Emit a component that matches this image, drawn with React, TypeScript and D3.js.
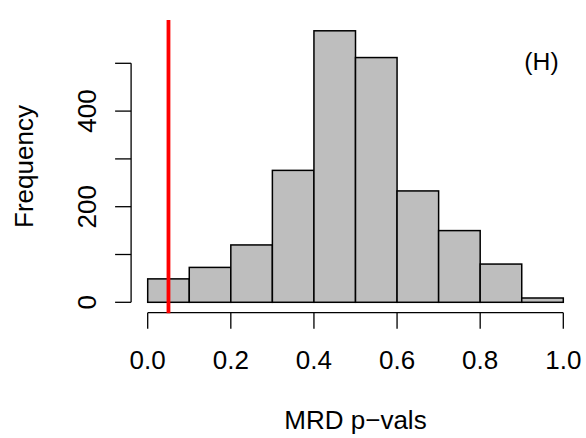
import React from "react";
import * as d3 from "d3";

const binStarts = [0.0, 0.1, 0.2, 0.3, 0.4, 0.5, 0.6, 0.7, 0.8, 0.9];
const binWidth = 0.1;
const counts = [49, 73, 120, 276, 568, 512, 233, 150, 80, 9];
const xTicks = [0.0, 0.2, 0.4, 0.6, 0.8, 1.0];
const yTicks = [0, 100, 200, 300, 400, 500];
const yLabels = [0, 200, 400];
const cutoff = 0.05;

const W = 586;
const H = 438;
const FONT = "'Liberation Sans', Arial, Helvetica, sans-serif";
const FS = 26;

export default function App() {
  const x = d3.scaleLinear().domain([0, 1]).range([147.7, 563.3]);
  const y = d3.scaleLinear().domain([0, 500]).range([302.3, 63.3]);
  const plotTop = 19.9;
  const plotBottom = 313.2;
  const xAxisY = 312.7;
  const yAxisX = 131.1;
  const tick = 16;

  return (
    <svg
      width={W}
      height={H}
      style={{ position: "absolute", left: 0, top: 0, background: "#fff" }}
      fontFamily={FONT}
    >
      <rect x={0} y={0} width={W} height={H} fill="#fff" />
      {binStarts.map((b, i) => (
        <rect
          key={i}
          x={x(b)}
          y={y(counts[i])}
          width={x(b + binWidth) - x(b)}
          height={y(0) - y(counts[i])}
          fill="#BEBEBE"
          stroke="#000"
          strokeWidth={1.5}
        />
      ))}
      {/* Y axis */}
      <line
        x1={yAxisX}
        x2={yAxisX}
        y1={y(yTicks[0])}
        y2={y(yTicks[yTicks.length - 1])}
        stroke="#000"
        strokeWidth={1.3}
      />
      {yTicks.map((t) => (
        <line
          key={t}
          x1={yAxisX - tick}
          x2={yAxisX}
          y1={y(t)}
          y2={y(t)}
          stroke="#000"
          strokeWidth={1.3}
        />
      ))}
      {yLabels.map((t) => (
        <text
          key={t}
          transform={`translate(95.7,${y(t)}) rotate(-90)`}
          textAnchor="middle"
          fontSize={FS}
          fill="#000"
        >
          {t}
        </text>
      ))}
      {/* X axis */}
      <line
        x1={x(xTicks[0])}
        x2={x(xTicks[xTicks.length - 1])}
        y1={xAxisY}
        y2={xAxisY}
        stroke="#000"
        strokeWidth={1.3}
      />
      {xTicks.map((t) => (
        <line
          key={t}
          x1={x(t)}
          x2={x(t)}
          y1={xAxisY}
          y2={xAxisY + tick}
          stroke="#000"
          strokeWidth={1.3}
        />
      ))}
      {xTicks.map((t) => (
        <text
          key={t}
          x={x(t)}
          y={369}
          textAnchor="middle"
          fontSize={FS}
          fill="#000"
        >
          {t.toFixed(1)}
        </text>
      ))}
      {/* red cutoff line */}
      <line
        x1={x(cutoff)}
        x2={x(cutoff)}
        y1={plotTop}
        y2={plotBottom}
        stroke="#FF0000"
        strokeWidth={3.8}
      />
      {/* titles */}
      <text x={355.5} y={429} textAnchor="middle" fontSize={FS} fill="#000">
        MRD p−vals
      </text>
      <text
        transform={`translate(33.3,166.5) rotate(-90)`}
        textAnchor="middle"
        fontSize={FS}
        fill="#000"
      >
        Frequency
      </text>
      <text x={541.5} y={70} textAnchor="middle" fontSize={FS * 0.95} fill="#000">
        (H)
      </text>
    </svg>
  );
}
